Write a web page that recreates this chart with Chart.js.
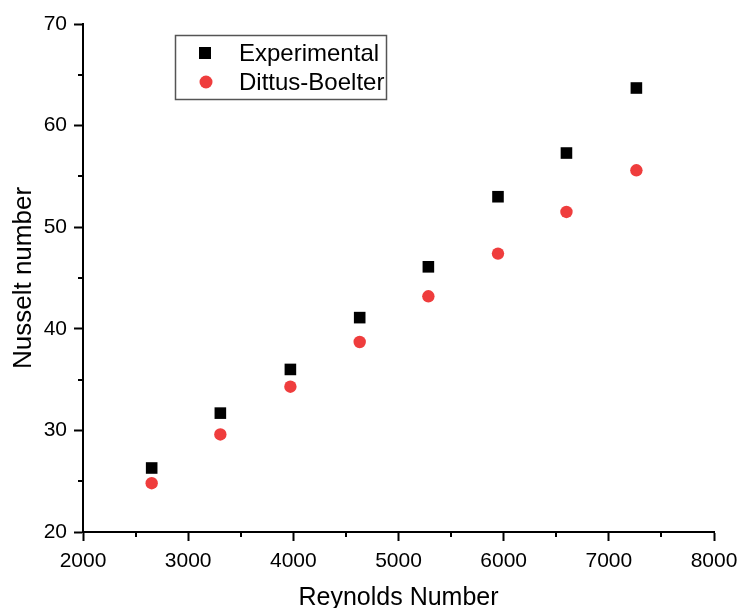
<!DOCTYPE html>
<html>
<head>
<meta charset="utf-8">
<script src="https://cdn.jsdelivr.net/npm/chart.js@4"></script>
<style>
  html, body { margin: 0; padding: 0; background: #fff; }
  #wrap { width: 739px; height: 608px; position: relative; }
</style>
</head>
<body>
<div id="wrap"><canvas id="g_nusselt"></canvas></div>
<script>
// values
const reynolds = [2653, 3306, 3972, 4631, 5284, 5946, 6597, 7262]
const experimental = [26.3, 31.7, 36.0, 41.1, 46.1, 53.0, 57.3, 63.7]
const dittusBoelter = [24.8, 29.6, 34.3, 38.7, 43.2, 47.4, 51.5, 55.6]
const seriesNames = ["Experimental", "Dittus-Boelter"]

const FONT = '"Liberation Sans", Arial, sans-serif'
const RED = "#ef3d3d"

const toPoints = (ys) => reynolds.map((x, i) => ({ x: x, y: ys[i] }))

// minor ticks half way between the major ones
const minorTicks = {
    id: "minorTicks",
    afterDraw(chart) {
        const ctx = chart.ctx
        const xs = chart.scales.x
        const ys = chart.scales.y
        const area = chart.chartArea
        ctx.save()
        ctx.strokeStyle = "#000"
        ctx.lineWidth = 2
        ctx.beginPath()
        for (let v = 2500; v < 8000; v += 1000) {
            const px = Math.round(xs.getPixelForValue(v))
            ctx.moveTo(px, area.bottom)
            ctx.lineTo(px, area.bottom + 5)
        }
        for (let v = 25; v < 70; v += 10) {
            const py = Math.round(ys.getPixelForValue(v))
            ctx.moveTo(area.left, py)
            ctx.lineTo(area.left - 5, py)
        }
        ctx.stroke()
        ctx.restore()
    }
}

// boxed legend in the upper left of the plot
const boxLegend = {
    id: "boxLegend",
    afterDraw(chart) {
        const ctx = chart.ctx
        ctx.save()
        ctx.strokeStyle = "#555"
        ctx.lineWidth = 1.5
        ctx.strokeRect(175.5, 35.5, 211, 64)

        ctx.fillStyle = "#000"
        ctx.fillRect(199, 47, 12, 12)
        ctx.fillStyle = RED
        ctx.beginPath()
        ctx.arc(206, 82, 6.5, 0, Math.PI * 2)
        ctx.fill()

        ctx.fillStyle = "#000"
        ctx.font = "24px " + FONT
        ctx.textBaseline = "alphabetic"
        ctx.textAlign = "left"
        ctx.fillText(seriesNames[0], 239, 61)
        ctx.fillText(seriesNames[1], 239, 90)
        ctx.restore()
    }
}

const axisLine = { display: true, color: "#000", width: 2 }
const axisGrid = {
    display: true,
    drawOnChartArea: false,
    drawTicks: true,
    tickLength: 9,
    tickWidth: 2,
    tickColor: "#000"
}

new Chart(document.getElementById("g_nusselt"), {
    type: "scatter",
    data: {
        datasets: [
            {
                label: seriesNames[0],
                data: toPoints(experimental),
                pointStyle: "rect",
                pointRadius: 8.2,
                pointHoverRadius: 8.2,
                backgroundColor: "#000",
                borderColor: "#000",
                borderWidth: 0
            },
            {
                label: seriesNames[1],
                data: toPoints(dittusBoelter),
                pointStyle: "circle",
                pointRadius: 6.2,
                pointHoverRadius: 6.2,
                backgroundColor: RED,
                borderColor: RED,
                borderWidth: 0
            }
        ]
    },
    options: {
        responsive: true,
        maintainAspectRatio: false,
        animation: false,
        layout: { padding: { top: 24, right: 25, left: 0, bottom: 0 } },
        plugins: {
            legend: { display: false },
            tooltip: { enabled: false }
        },
        scales: {
            x: {
                type: "linear",
                min: 2000,
                max: 8000,
                border: axisLine,
                grid: axisGrid,
                ticks: {
                    stepSize: 1000,
                    padding: 8,
                    color: "#000",
                    font: { family: FONT, size: 21 },
                    maxRotation: 0,
                    callback: (v) => String(v)
                },
                title: {
                    display: true,
                    text: "Reynolds Number",
                    color: "#000",
                    font: { family: FONT, size: 25, lineHeight: 0.8 },
                    padding: { top: 0, bottom: 0 }
                },
                afterFit(scale) {
                    scale.height = 76
                    scale.paddingLeft = 0
                    scale.paddingRight = 0
                }
            },
            y: {
                type: "linear",
                min: 20,
                max: 70,
                border: axisLine,
                grid: axisGrid,
                ticks: {
                    stepSize: 10,
                    padding: 7,
                    color: "#000",
                    font: { family: FONT, size: 21 },
                    callback: (v) => String(v)
                },
                title: {
                    display: true,
                    text: "Nusselt number",
                    color: "#000",
                    font: { family: FONT, size: 26, lineHeight: 1.2 },
                    padding: { top: 8, bottom: 0 }
                },
                afterFit(scale) {
                    scale.width = 83
                    scale.paddingTop = 0
                    scale.paddingBottom = 0
                }
            }
        }
    },
    plugins: [minorTicks, boxLegend]
})
</script>
</body>
</html>
